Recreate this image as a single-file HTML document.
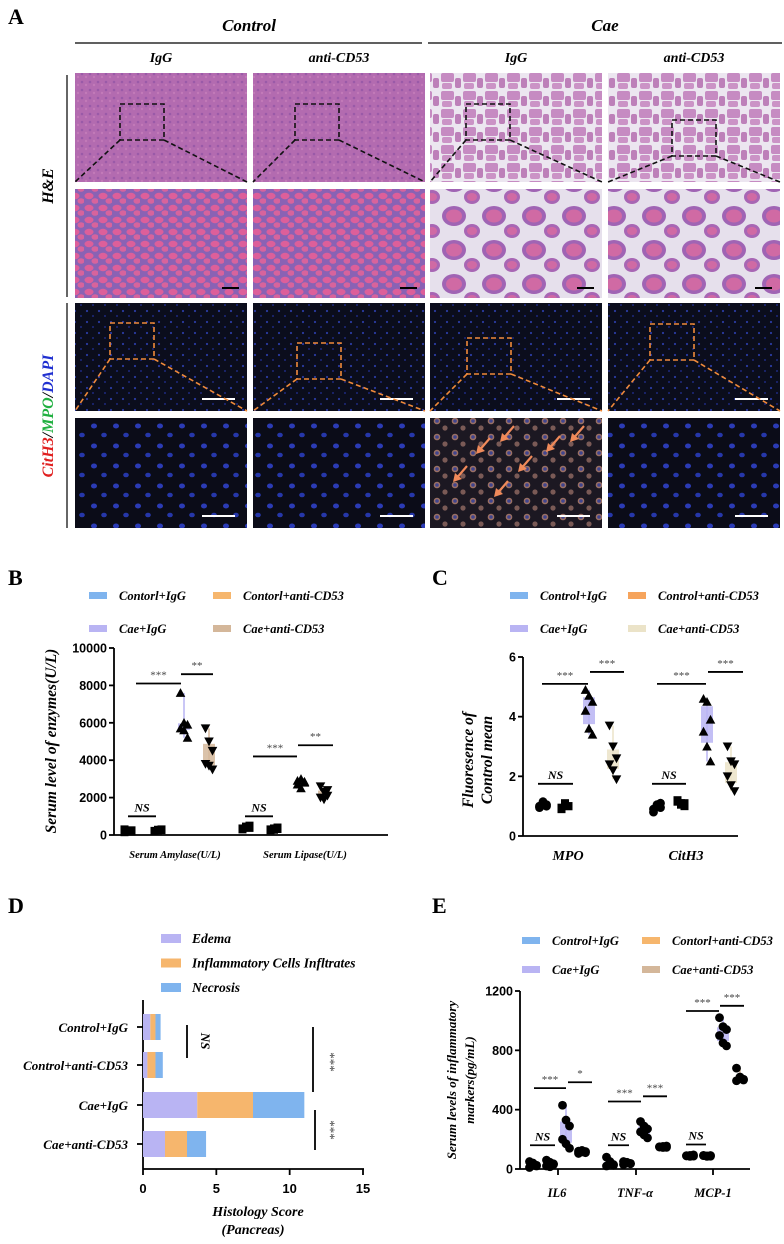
<!DOCTYPE html>
<html><head><meta charset="utf-8">
<style>
body{margin:0;background:#fff;}
svg text{font-family:"Liberation Serif",serif;}
.sans{font-family:"Liberation Sans",sans-serif!important;font-weight:bold;}
</style></head>
<body>
<svg id="fig" width="784" height="1239" viewBox="0 0 784 1239" xmlns="http://www.w3.org/2000/svg">
<defs>
 <pattern id="heLow" width="8" height="8" patternUnits="userSpaceOnUse"><rect width="8" height="8" fill="#b36bb0"/><circle cx="2" cy="2" r="1.3" fill="#9a5aa8"/><circle cx="6" cy="5" r="1.2" fill="#c27ab8"/></pattern>
 <pattern id="heHigh" width="14" height="12" patternUnits="userSpaceOnUse"><rect width="14" height="12" fill="#8a62b4"/><ellipse cx="5" cy="4" rx="4.5" ry="3.2" fill="#dd5f9a"/><ellipse cx="11" cy="9" rx="3.5" ry="2.8" fill="#d8639c"/></pattern>
 <pattern id="caeLow" width="22" height="18" patternUnits="userSpaceOnUse"><rect width="22" height="18" fill="#ece6f0"/><rect x="1" y="1" width="13" height="9" rx="2" fill="#c68bc2"/><rect x="15" y="6" width="6" height="10" rx="2" fill="#bd80b9"/><rect x="2" y="11" width="10" height="6" rx="2" fill="#cb93c6"/></pattern>
 <pattern id="caeHigh" width="40" height="34" patternUnits="userSpaceOnUse"><rect width="40" height="34" fill="#e6e0ec"/><ellipse cx="14" cy="12" rx="12" ry="10" fill="#a064b4"/><ellipse cx="14" cy="12" rx="8" ry="6.5" fill="#d06aa4"/><ellipse cx="32" cy="27" rx="8" ry="7" fill="#a866b4"/><ellipse cx="32" cy="27" rx="5" ry="4" fill="#d06aa4"/></pattern>
 <pattern id="ifLow" width="12" height="11" patternUnits="userSpaceOnUse"><rect width="12" height="11" fill="#0b0d1c"/><circle cx="3" cy="3" r="1.1" fill="#2a3aa0"/><circle cx="9" cy="8" r="0.9" fill="#22309a"/></pattern>
 <pattern id="ifHigh" width="22" height="20" patternUnits="userSpaceOnUse"><rect width="22" height="20" fill="#0b0c18"/><ellipse cx="6" cy="6" rx="3" ry="2.5" fill="#2b3bb5"/><ellipse cx="16" cy="15" rx="2.8" ry="2.3" fill="#2637aa"/></pattern>
 <pattern id="ifCae" width="18" height="16" patternUnits="userSpaceOnUse"><rect width="18" height="16" fill="#1c1822"/><circle cx="5" cy="5" r="3.3" fill="#9a7064"/><circle cx="5" cy="5" r="1.8" fill="#40448f"/><circle cx="13" cy="12" r="2.6" fill="#7a5a56"/></pattern>
</defs>

<g>
 <text x="8" y="24" font-size="22" font-weight="bold">A</text>
 <text x="249" y="31" font-size="17" font-weight="bold" font-style="italic" text-anchor="middle">Control</text>
 <text x="605" y="31" font-size="17" font-weight="bold" font-style="italic" text-anchor="middle">Cae</text>
 <line x1="75" y1="43" x2="422" y2="43" stroke="#000" stroke-width="1.2"/>
 <line x1="428" y1="43" x2="782" y2="43" stroke="#000" stroke-width="1.2"/>
 <text x="161" y="62" font-size="14" font-weight="bold" font-style="italic" text-anchor="middle">IgG</text>
 <text x="339" y="62" font-size="14" font-weight="bold" font-style="italic" text-anchor="middle">anti-CD53</text>
 <text x="516" y="62" font-size="14" font-weight="bold" font-style="italic" text-anchor="middle">IgG</text>
 <text x="694" y="62" font-size="14" font-weight="bold" font-style="italic" text-anchor="middle">anti-CD53</text>
 <line x1="67" y1="75" x2="67" y2="297" stroke="#000" stroke-width="1.2"/>
 <line x1="67" y1="303" x2="67" y2="528" stroke="#000" stroke-width="1.2"/>
 <text transform="translate(53,186) rotate(-90)" font-size="16" font-weight="bold" font-style="italic" text-anchor="middle">H&amp;E</text>
 <text transform="translate(53,416) rotate(-90)" font-size="16" font-weight="bold" font-style="italic" text-anchor="middle"><tspan fill="#e02020">CitH3</tspan><tspan fill="#000">/</tspan><tspan fill="#20b040">MPO</tspan><tspan fill="#000">/</tspan><tspan fill="#2030d0">DAPI</tspan></text>
 <g id="micro"></g>
</g>

<g id="pb"><text x="8" y="585" font-size="22" font-weight="bold">B</text></g>
<g id="pc"><text x="432" y="585" font-size="22" font-weight="bold">C</text></g>
<g id="pd"><text x="8" y="913" font-size="22" font-weight="bold">D</text></g>
<g id="pe"><text x="432" y="913" font-size="22" font-weight="bold">E</text></g>
</svg>
<script>
// ---------- data ----------
const groupNames = ["Control+IgG","Control+anti-CD53","Cae+IgG","Cae+anti-CD53"];
const bCategories = ["Serum Amylase(U/L)","Serum Lipase(U/L)"];
const bTicks = [0,2000,4000,6000,8000,10000];
const bAmyCtrlIgg = [150,200,250,300,200,180];
const bAmyCtrlAnti = [200,250,300,220,280,260];
const bAmyCaeIgg = [7600,6000,5900,5700,5600,5200];
const bAmyCaeAnti = [5700,5000,4500,3800,3700,3500];
const bLipCtrlIgg = [300,400,500,350,450,380];
const bLipCtrlAnti = [250,350,400,300,280,320];
const bLipCaeIgg = [2900,3000,2800,2700,2500,2850];
const bLipCaeAnti = [2600,2300,2100,2000,1900,2400];

const cCategories = ["MPO","CitH3"];
const cTicks = [0,2,4,6];
const cMpoCtrlIgg = [1.0,1.1,1.05,0.95,1.15,1.0];
const cMpoCtrlAnti = [0.9,1.1,1.0,0.95,1.05,1.0];
const cMpoCaeIgg = [4.9,4.7,4.5,4.2,3.6,3.4];
const cMpoCaeAnti = [3.7,3.0,2.6,2.4,2.2,1.9];
const cCitCtrlIgg = [0.8,1.0,1.1,0.9,1.05,0.95];
const cCitCtrlAnti = [1.2,1.1,1.0,1.15,1.05,1.1];
const cCitCaeIgg = [4.6,4.5,3.9,3.5,3.0,2.5];
const cCitCaeAnti = [3.0,2.5,2.4,2.0,1.7,1.5];

const dCategories = ["Control+IgG","Control+anti-CD53","Cae+IgG","Cae+anti-CD53"];
const dEdema = [0.5,0.3,3.7,1.5];
const dInflam = [0.35,0.55,3.8,1.5];
const dNecrosis = [0.35,0.5,3.5,1.3];
const dTicks = [0,5,10,15];

const eCategories = ["IL6","TNF-α","MCP-1"];
const eTicks = [0,400,800,1200];
const eIl6CtrlIgg = [50,30,20,10,40,25];
const eIl6CtrlAnti = [60,45,30,20,15,35];
const eIl6CaeIgg = [430,330,290,200,170,140];
const eIl6CaeAnti = [120,115,110,105,125,118];
const eTnfCtrlIgg = [80,40,30,20,50,25];
const eTnfCtrlAnti = [50,40,35,30,45,38];
const eTnfCaeIgg = [320,290,270,250,230,210];
const eTnfCaeAnti = [150,145,155,148,152,146];
const eMcpCtrlIgg = [90,85,95,88,92,87];
const eMcpCtrlAnti = [90,88,86,92,85,91];
const eMcpCaeIgg = [1020,960,940,900,850,830];
const eMcpCaeAnti = [680,610,600,595,620,605];

// ---------- helpers ----------
const NS="http://www.w3.org/2000/svg";
function mk(parent,tag,attrs,txt){const e=document.createElementNS(NS,tag);for(const k in attrs)e.setAttribute(k,attrs[k]);if(txt!==undefined)e.textContent=txt;parent.appendChild(e);return e;}
function q(a,p){const s=[...a].sort((x,y)=>x-y);const i=(s.length-1)*p;const lo=Math.floor(i),hi=Math.ceil(i);return s[lo]+(s[hi]-s[lo])*(i-lo);}

// ---------- micrographs ----------
const micro=document.getElementById('micro');
const colX=[75,253,430,608], colW=172;
const rows=[{y:73,h:109},{y:189,h:109},{y:303,h:108},{y:418,h:110}];
const fills=[["heLow","heLow","caeLow","caeLow"],["heHigh","heHigh","caeHigh","caeHigh"],["ifLow","ifLow","ifLow","ifLow"],["ifHigh","ifHigh","ifCae","ifHigh"]];
const zoomBoxes=[[120,104],[295,104],[466,104],[672,120],[110,323],[297,343],[467,338],[650,324]];
rows.forEach((r,ri)=>colX.forEach((x,ci)=>{
  const el=mk(micro,'rect',{x:x,y:r.y,width:colW,height:r.h,fill:'url(#'+fills[ri][ci]+')'});
  
  
  if(ri==1){ mk(micro,'line',{x1:x+colW-25,y1:r.y+r.h-10,x2:x+colW-8,y2:r.y+r.h-10,stroke:'#000','stroke-width':2}); }
  if(ri==2||ri==3){ mk(micro,'line',{x1:x+colW-45,y1:r.y+r.h-12,x2:x+colW-12,y2:r.y+r.h-12,stroke:'#fff','stroke-width':2}); }
}));
zoomBoxes.forEach((b,i)=>{
  const ci=i%4, ri=i<4?0:2; const col=ri==0?'#111':'#f08a3a';
  const bx=b[0], by=b[1], w=44, h=36;
  mk(micro,'rect',{x:bx,y:by,width:w,height:h,fill:'none',stroke:col,'stroke-width':1.6,'stroke-dasharray':'5,3'});
  const bottom=rows[ri].y+rows[ri].h;
  mk(micro,'line',{x1:bx,y1:by+h,x2:colX[ci],y2:bottom,stroke:col,'stroke-width':1.6,'stroke-dasharray':'5,3'});
  mk(micro,'line',{x1:bx+w,y1:by+h,x2:colX[ci]+colW,y2:bottom,stroke:col,'stroke-width':1.6,'stroke-dasharray':'5,3'});
});
[[455,480],[478,452],[502,440],[520,470],[548,450],[572,440],[496,495]].forEach(a=>{
  mk(micro,'line',{x1:a[0]+12,y1:a[1]-14,x2:a[0],y2:a[1],stroke:'#f08a5a','stroke-width':2.2});
  mk(micro,'path',{d:`M${a[0]-2} ${a[1]+2} l2 -9 l7 6 z`,fill:'#f08a5a'});
});

// ---------- box chart generic ----------
const colors=["#7fb4ee","#f6b66d","#b9b4f3","#d4b79a"];
function legend(g,x1,x2,y1,y2,labels,cols){
  labels.forEach((l,i)=>{
    const x=i%2?x2:x1, y=i<2?y1:y2;
    const r=mk(g,'rect',{x:x,y:y-5,width:18,height:7,fill:cols[i]});
    
    
    const t=mk(g,'text',{x:x+30,y:y+3,'font-size':12.5,'font-weight':'bold','font-style':'italic'},l);
    
    
  });
}
function marker(g,shape,x,y,s){
  if(shape=='c') return mk(g,'circle',{cx:x,cy:y,r:s*0.55,fill:'#000'});
  if(shape=='s') return mk(g,'rect',{x:x-s*0.5,y:y-s*0.5,width:s,height:s,fill:'#000'});
  if(shape=='u') return mk(g,'path',{d:`M${x} ${y-s*0.6} L${x+s*0.6} ${y+s*0.5} L${x-s*0.6} ${y+s*0.5} Z`,fill:'#000'});
  return mk(g,'path',{d:`M${x} ${y+s*0.6} L${x+s*0.6} ${y-s*0.5} L${x-s*0.6} ${y-s*0.5} Z`,fill:'#000'});
}
function boxChart(g,cfg){
  const Y=v=>cfg.y0-(v-cfg.ymin)/(cfg.ymax-cfg.ymin)*(cfg.y0-cfg.y1);
  mk(g,'line',{x1:cfg.ax,y1:cfg.y1,x2:cfg.ax,y2:cfg.y0,stroke:'#000','stroke-width':1.8});
  mk(g,'line',{x1:cfg.ax,y1:cfg.y0,x2:cfg.xend,y2:cfg.y0,stroke:'#000','stroke-width':1.8});
  cfg.ticks.forEach(t=>{
    mk(g,'line',{x1:cfg.ax-5,y1:Y(t),x2:cfg.ax,y2:Y(t),stroke:'#000','stroke-width':1.8});
    const tt=mk(g,'text',{x:cfg.ax-7,y:Y(t)+4.5,'font-size':12.5,'text-anchor':'end',class:'sans'},String(t));
    
    
  });
  cfg.cats.forEach((c,ci)=>{
    if(cfg.xticks){mk(g,'line',{x1:cfg.xticks[ci],y1:cfg.y0,x2:cfg.xticks[ci],y2:cfg.y0+6,stroke:'#000','stroke-width':1.8});}
    const lt=mk(g,'text',{x:cfg.catX[ci],y:cfg.catY,'font-size':cfg.catSize,'font-weight':'bold','font-style':'italic','text-anchor':'middle'},c);
    
    
    cfg.series[ci].forEach((vals,si)=>{
      const x=cfg.gx[ci][si];
      const bx=mk(g,'rect',{x:x-6,y:Y(q(vals,0.75)),width:12,height:Math.max(1,Y(q(vals,0.25))-Y(q(vals,0.75))),fill:cfg.cols[si],opacity:0.85});
      
      
      mk(g,'line',{x1:x,y1:Y(Math.max(...vals)),x2:x,y2:Y(Math.min(...vals)),stroke:cfg.cols[si],'stroke-width':1.5});
      vals.forEach((v,k)=>{
        const m=marker(g,cfg.shapes[si],x+((k%3)-1)*3.5,Y(v),cfg.ms);
        
        
      });
    });
  });
  cfg.sig.forEach(s=>{
    const y=Y(s[2]);
    mk(g,'line',{x1:s[0],y1:y,x2:s[1],y2:y,stroke:'#000','stroke-width':1.8});
    const st=mk(g,'text',{x:(s[0]+s[1])/2,y:y-5,'font-size':s[3]=='NS'?12:11,'font-style':s[3]=='NS'?'italic':'normal','font-weight':s[3]=='NS'?'bold':'normal',fill:s[3]=='NS'?'#000':'#444','text-anchor':'middle'},s[3]);
    
    
  });
  return Y;
}

// Panel B
const pb=document.getElementById('pb');
legend(pb,89,213,597,630,["Contorl+IgG","Contorl+anti-CD53","Cae+IgG","Cae+anti-CD53"],colors);
boxChart(pb,{ax:114,y0:835,y1:648,ymin:0,ymax:10000,xend:388,ticks:bTicks,cats:bCategories,catX:[175,305],catY:858,catSize:10.5,
 gx:[[128,158,184,209],[246,274,301,324]],series:[[bAmyCtrlIgg,bAmyCtrlAnti,bAmyCaeIgg,bAmyCaeAnti],[bLipCtrlIgg,bLipCtrlAnti,bLipCaeIgg,bLipCaeAnti]],
 cols:colors,shapes:['s','s','u','d'],ms:8,
 sig:[[136,181,8100,'***'],[181,213,8600,'**'],[253,297,4200,'***'],[298,333,4800,'**'],[128,156,1000,'NS'],[245,273,1000,'NS']]});
const by=mk(pb,'text',{transform:'translate(56,741) rotate(-90)','font-size':15.5,'font-weight':'bold','font-style':'italic','text-anchor':'middle'},'Serum level of enzymes(U/L)');


// Panel C
const pc=document.getElementById('pc');
legend(pc,510,628,597,630,["Control+IgG","Control+anti-CD53","Cae+IgG","Cae+anti-CD53"],["#7fb4ee","#f6a45c","#b9b4f3","#ebe3c8"]);
boxChart(pc,{ax:523,y0:836,y1:657,ymin:0,ymax:6,xend:738,ticks:cTicks,cats:cCategories,catX:[568,686],catY:860,catSize:14,
 gx:[[543,565,589,613],[657,681,707,731]],series:[[cMpoCtrlIgg,cMpoCtrlAnti,cMpoCaeIgg,cMpoCaeAnti],[cCitCtrlIgg,cCitCtrlAnti,cCitCaeIgg,cCitCaeAnti]],
 cols:["#7fb4ee","#f6a45c","#b9b4f3","#ebe3c8"],shapes:['c','s','u','d'],ms:8,
 sig:[[542,588,5.1,'***'],[590,624,5.5,'***'],[657,706,5.1,'***'],[708,743,5.5,'***'],[538,573,1.75,'NS'],[652,686,1.75,'NS']]});
const cy=mk(pc,'text',{transform:'translate(473,760) rotate(-90)','font-size':15.5,'font-weight':'bold','font-style':'italic','text-anchor':'middle'},'Fluoresence of');

const cy2=mk(pc,'text',{transform:'translate(492,760) rotate(-90)','font-size':15.5,'font-weight':'bold','font-style':'italic','text-anchor':'middle'},'Control mean');


// Panel E
const pe=document.getElementById('pe');
legend(pe,522,642,942,971,["Control+IgG","Contorl+anti-CD53","Cae+IgG","Cae+anti-CD53"],colors);
boxChart(pe,{ax:520,y0:1169,y1:991,ymin:0,ymax:1200,xend:750,ticks:eTicks,cats:eCategories,catX:[557,635,713],catY:1197,catSize:12.5,
 xticks:[558,636,713],
 gx:[[533,550,566,582],[610,627,644,663],[690,707,723,740]],series:[[eIl6CtrlIgg,eIl6CtrlAnti,eIl6CaeIgg,eIl6CaeAnti],[eTnfCtrlIgg,eTnfCtrlAnti,eTnfCaeIgg,eTnfCaeAnti],[eMcpCtrlIgg,eMcpCtrlAnti,eMcpCaeIgg,eMcpCaeAnti]],
 cols:colors,shapes:['c','c','c','c'],ms:8,
 sig:[[534,566,545,'***'],[568,592,585,'*'],[608,641,455,'***'],[643,667,490,'***'],[686,719,1065,'***'],[720,744,1100,'***'],[530,555,160,'NS'],[608,629,160,'NS'],[686,706,165,'NS']]});
const ey=mk(pe,'text',{transform:'translate(456,1080) rotate(-90)','font-size':13,'font-weight':'bold','font-style':'italic','text-anchor':'middle'},'Serum levels of inflammatory');

const ey2=mk(pe,'text',{transform:'translate(474,1080) rotate(-90)','font-size':13,'font-weight':'bold','font-style':'italic','text-anchor':'middle'},'markers(pg/mL)');


// Panel D
const pd=document.getElementById('pd');
const dCols=["#b9b4f3","#f6b66d","#7fb4ee"], dLabels=["Edema","Inflammatory Cells Infltrates","Necrosis"];
dLabels.forEach((l,i)=>{
  const r=mk(pd,'rect',{x:161,y:934+i*24.5,width:20,height:9,fill:dCols[i]});
  
  
  const t=mk(pd,'text',{x:192,y:943+i*24.5,'font-size':13.5,'font-weight':'bold','font-style':'italic'},l);
  
  
});
const X=v=>143+v*(363-143)/15;
const dY=[1027,1065,1105,1144];
mk(pd,'line',{x1:143,y1:1000,x2:143,y2:1169,stroke:'#000','stroke-width':1.8});
mk(pd,'line',{x1:143,y1:1169,x2:364,y2:1169,stroke:'#000','stroke-width':1.8});
dTicks.forEach(t=>{mk(pd,'line',{x1:X(t),y1:1169,x2:X(t),y2:1175,stroke:'#000','stroke-width':1.8});
 const tt=mk(pd,'text',{x:X(t),y:1193,'font-size':13,'text-anchor':'middle',class:'sans'},String(t));
 });
dCategories.forEach((c,i)=>{
  mk(pd,'line',{x1:137,y1:dY[i],x2:143,y2:dY[i],stroke:'#000','stroke-width':1.8});
  const t=mk(pd,'text',{x:128,y:dY[i]+5,'font-size':13,'font-weight':'bold','font-style':'italic','text-anchor':'end'},c);
  
  let acc=0; [dEdema,dInflam,dNecrosis].forEach((arr,si)=>{
    const b=mk(pd,'rect',{x:X(acc),y:dY[i]-13,width:X(acc+arr[i])-X(acc),height:26,fill:dCols[si]});
    
    
    acc+=arr[i];
  });
});
mk(pd,'line',{x1:187,y1:1025,x2:187,y2:1058,stroke:'#000','stroke-width':1.8});
const nst=mk(pd,'text',{transform:'translate(201,1041) rotate(90)','font-size':13,'font-weight':'bold','font-style':'italic','text-anchor':'middle'},'NS');

mk(pd,'line',{x1:313,y1:1027,x2:313,y2:1092,stroke:'#000','stroke-width':1.8});
mk(pd,'line',{x1:315,y1:1110,x2:315,y2:1150,stroke:'#000','stroke-width':1.8});
[1062,1130].forEach(y=>{const s=mk(pd,'text',{transform:`translate(326,${y}) rotate(90)`,'font-size':13,fill:'#444','text-anchor':'middle'},'***');
 });
const dt=mk(pd,'text',{x:258,y:1216,'font-size':14,'font-weight':'bold','font-style':'italic','text-anchor':'middle'},'Histology Score');

const dt2=mk(pd,'text',{x:253,y:1234,'font-size':14,'font-weight':'bold','font-style':'italic','text-anchor':'middle'},'(Pancreas)');

</script>
</body></html>
